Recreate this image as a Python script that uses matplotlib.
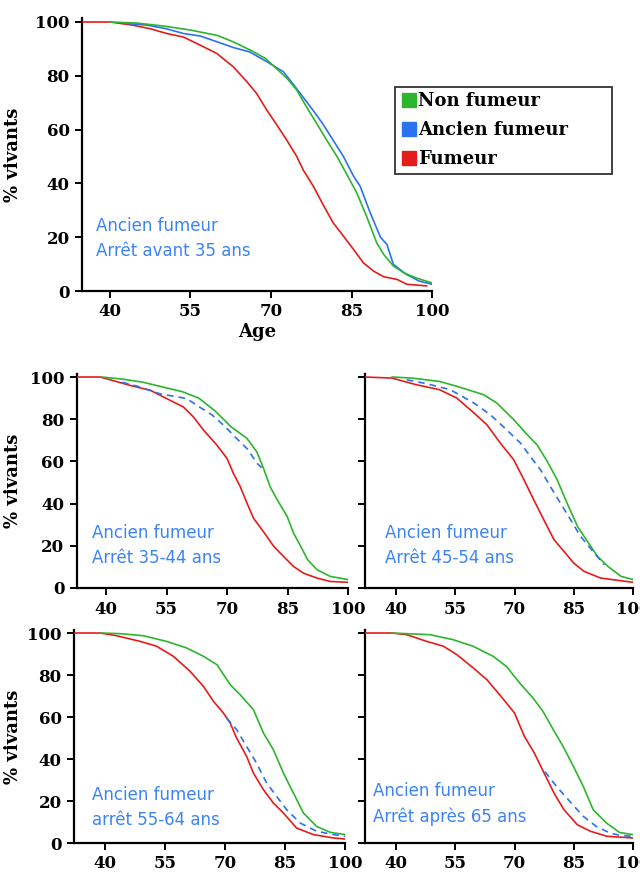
import matplotlib
matplotlib.use("Agg")
import matplotlib.pyplot as plt
from matplotlib.lines import Line2D

# ---- données (âge, % vivants) ----
# Panneau 1 : arrêt avant 35 ans
p1_non_age = [40, 45, 50, 55, 60, 63, 66.7, 69, 71, 73, 74.8, 76.6, 78.5, 80.4, 82.3, 84, 86, 87.8, 89.7, 91, 92.8, 94.7, 97, 100]
p1_non_val = [100, 99.6, 98.5, 97, 95, 92.6, 89, 86.4, 82.7, 79, 74.7, 68.5, 62.3, 56, 50, 43.8, 36.4, 27.8, 17.9, 13.6, 9.3, 6.8, 4.9, 3]
p1_anc_age = [43, 47, 50.5, 53.7, 56.8, 60, 63, 66, 69, 72.3, 74.1, 76, 77.9, 79.7, 81.6, 83.5, 85.4, 86.6, 88.5, 90.4, 91.6, 92.8, 95.2, 97.6, 100]
p1_anc_val = [99.5, 98.8, 97.5, 95.7, 94.8, 92.6, 90.5, 88.9, 85.5, 81.5, 77, 72, 67, 62, 56, 50, 42.6, 39, 29, 20, 17.3, 9.9, 6.2, 3.7, 2.5]
p1_fum_age = [35, 40, 44.3, 47.5, 50.6, 53.7, 56.8, 59.9, 63, 65.5, 67.3, 69.2, 71.1, 72.9, 74.8, 76, 77.9, 79.7, 81.6, 83.5, 85.4, 87.2, 89.1, 91, 93.5, 95.3, 99]
p1_fum_val = [100, 100, 98.8, 97.5, 95.7, 94.4, 91.4, 88.3, 83.3, 77.8, 73.5, 67.3, 61.7, 56.2, 50, 45, 38.9, 32.1, 25.3, 20.4, 15.4, 10.5, 7.4, 5.3, 4.3, 2.5, 1.9]

# Panneau 2 : arrêt 35-44 ans
p2_non_age = [39, 44, 49, 54, 59, 63, 67, 71, 74.9, 77.4, 79, 80.7, 82.4, 84.9, 86.5, 88.2, 90, 92.3, 95.6, 100]
p2_non_val = [100, 99, 97.6, 95.3, 93, 90, 84, 76.4, 71, 64.5, 57, 48, 42, 34, 26, 20, 13.4, 8.7, 5.5, 4]
p2_anc_age = [44, 48, 53.4, 60, 63, 66.3, 69.6, 72, 75, 77.5, 78.6]
p2_anc_val = [97.5, 95.5, 92, 89.8, 86, 82, 76.4, 71.6, 66, 59, 57]
p2_fum_age = [33, 38.5, 41, 46, 51, 55, 59.2, 61.7, 64.2, 67.5, 70, 71.6, 73.3, 75, 76.6, 79, 81.6, 84, 86.5, 89, 92.3, 95.6, 100]
p2_fum_val = [100, 100, 98.7, 96, 93.7, 89.8, 85.8, 81, 74.8, 67.7, 61.4, 54.3, 48, 40, 33, 26.8, 19.7, 15, 10.2, 7, 4.7, 3.1, 2.7]

# Panneau 3 : arrêt 45-54 ans
p3_non_age = [39, 44, 51, 55.4, 62.2, 65.5, 69.8, 73.2, 75.7, 78.3, 80.8, 83.3, 86, 88.5, 91, 93.6, 97, 100]
p3_non_val = [100, 99.5, 97.9, 95.6, 91.6, 87.7, 79.8, 72.7, 67.9, 60, 51.3, 40.3, 29, 22, 15, 10.3, 5.5, 4]
p3_anc_age = [42.7, 47.8, 53.7, 59.7, 63.9, 68, 71.5, 74, 76.6, 79.1, 81.6, 84.2, 86.7, 90.2, 92.7]
p3_anc_val = [98.7, 96.8, 94, 87.7, 82.1, 75, 68.7, 62.4, 56, 48, 40.3, 32.4, 24.5, 16.6, 11]
p3_fum_age = [32, 39, 45, 51, 55.4, 59.7, 63, 66.4, 69.8, 72.4, 74.9, 77.4, 80, 82.5, 85, 87.6, 91.8, 100]
p3_fum_val = [100, 99.5, 96.4, 94, 90, 83, 77.4, 68.7, 60.8, 51.3, 41.7, 32.4, 22.9, 17.4, 11.8, 7.9, 4.7, 2.7]

# Panneau 4 : arrêt 55-64 ans
p4_non_age = [38.8, 43.7, 49.6, 55.4, 60.4, 64.6, 68, 71.3, 73.8, 77.1, 79.6, 82.1, 84.6, 87.1, 89.6, 92.9, 96.3, 100]
p4_non_val = [100, 99.7, 98.7, 96, 92.9, 88.9, 84.9, 75.4, 70.6, 63.5, 52.4, 44.4, 33.3, 23.8, 14.3, 7.9, 5.1, 4]
p4_anc_age = [70.4, 72.9, 75.4, 77.9, 80.4, 82.9, 85.4, 88.8, 92.9, 97.1, 100]
p4_anc_val = [59.5, 54, 46, 38, 28.6, 22.2, 15.9, 9.5, 5.6, 4, 3.2]
p4_fum_age = [32.2, 38.8, 42.9, 48.8, 52.9, 57.1, 61.3, 64.6, 67.1, 69.6, 71.3, 72.9, 75.4, 77.1, 79.6, 82.1, 84.6, 87.9, 92.1, 97.1, 100]
p4_fum_val = [100, 100, 98.7, 96, 93.7, 88.9, 81.7, 74.6, 67.5, 61.9, 57.1, 50, 41.3, 33.3, 25.4, 19, 14.3, 7.1, 4, 2.4, 1.9]

# Panneau 5 : arrêt après 65 ans
p5_non_age = [38.9, 48.6, 54.5, 59.5, 64.6, 68, 71.3, 74.7, 77.2, 79.8, 82.3, 84.9, 87.4, 89.9, 93.3, 96.6, 100]
p5_non_val = [100, 99.2, 96.8, 93.7, 88.9, 84, 76.2, 69, 62.7, 54, 46, 36.5, 27, 15.9, 9.5, 5, 4]
p5_anc_age = [77.7, 80.6, 84, 87.4, 90.7, 94.1, 96.6, 100]
p5_anc_val = [34, 27, 19.8, 12.7, 7.9, 4.8, 3.7, 3.2]
p5_fum_age = [32.2, 38.9, 42.7, 47.8, 52, 55.4, 59.6, 63, 66.6, 70, 72.5, 75, 77.5, 80, 82.5, 85.9, 89.2, 93.4, 100]
p5_fum_val = [100, 100, 99.2, 96, 93.7, 89.7, 83.3, 77.8, 69.8, 61.9, 50.8, 42.9, 33.3, 23.8, 15.9, 8.7, 5.6, 3.2, 2.4]

xticks = [40, 55, 70, 85, 100]
yticks = [0, 20, 40, 60, 80, 100]
legend_labels = ["Non fumeur", "Ancien fumeur", "Fumeur"]

GREEN = "#2db52d"
BLUE = "#2a72f0"
RED = "#e51c1c"
TXT_BLUE = "#3c84f2"
SERIF = ["DejaVu Serif"]

W, H = 640, 874
fig = plt.figure(figsize=(W / 100, H / 100), dpi=100)
fig.patch.set_facecolor("white")


def make_ax(left, right, y100, y0, x40, x100):
    # position en pixels -> fraction de figure
    ppu_y = (y0 - y100) / 100.0
    top = y0 - 101.5 * ppu_y
    ppu_x = (x100 - x40) / 60.0
    xmin = 40 - (x40 - left) / ppu_x
    ax = fig.add_axes([left / W, 1 - y0 / H, (right - left) / W, (y0 - top) / H])
    ax.set_xlim(xmin, 100)
    ax.set_ylim(0, 101.5)
    for s in ["top", "right"]:
        ax.spines[s].set_visible(False)
    for s in ["left", "bottom"]:
        ax.spines[s].set_linewidth(1.6)
    ax.set_xticks(xticks)
    ax.set_yticks(yticks)
    ax.tick_params(direction="out", length=5, width=1.4, pad=4)
    for lab in ax.get_xticklabels() + ax.get_yticklabels():
        lab.set_fontfamily(SERIF)
        lab.set_fontweight("bold")
        lab.set_fontsize(12)
    ax.set_facecolor("white")
    return ax


def draw(ax, non, anc, fum, dashed, note):
    ax.plot(fum[0], fum[1], color=RED, lw=1.2, zorder=3)
    ax.plot(non[0], non[1], color=GREEN, lw=1.2, zorder=4)
    ax.plot(anc[0], anc[1], color=BLUE, lw=1.2,
            ls=(0, (4, 3)) if dashed else "-", zorder=5 if dashed else 3.5)
    ax.text(note[0], note[1], note[2], transform=ax.transAxes, color=TXT_BLUE,
            fontsize=12, family="DejaVu Sans", va="bottom", ha="left",
            linespacing=1.5, zorder=2,
            bbox=dict(facecolor="white", edgecolor="none", pad=3))


def ylab(ax, x_px):
    ax.set_ylabel("% vivants", fontfamily=SERIF, fontweight="bold", fontsize=13)
    pos = ax.get_position()
    ax.yaxis.set_label_coords((x_px - pos.x0 * W) / (pos.width * W), 0.5)


# panneau du haut
ax1 = make_ax(82, 432, 22, 291, 110, 432)
draw(ax1, (p1_non_age, p1_non_val), (p1_anc_age, p1_anc_val), (p1_fum_age, p1_fum_val),
     False, (0.04, 0.115, "Ancien fumeur\nArrêt avant 35 ans"))
ax1.set_xlabel("Age", fontfamily=SERIF, fontweight="bold", fontsize=13, labelpad=2)
ylab(ax1, 22)

# panneaux du milieu
ax2 = make_ax(77, 348, 377, 588, 106, 348)
draw(ax2, (p2_non_age, p2_non_val), (p2_anc_age, p2_anc_val), (p2_fum_age, p2_fum_val),
     True, (0.055, 0.10, "Ancien fumeur\nArrêt 35-44 ans"))
ylab(ax2, 22)

ax3 = make_ax(365, 633, 377, 588, 396, 633)
draw(ax3, (p3_non_age, p3_non_val), (p3_anc_age, p3_anc_val), (p3_fum_age, p3_fum_val),
     True, (0.075, 0.10, "Ancien fumeur\nArrêt 45-54 ans"))
ax3.set_yticklabels([])

# panneaux du bas
ax4 = make_ax(74, 345, 633, 843, 105, 345)
draw(ax4, (p4_non_age, p4_non_val), (p4_anc_age, p4_anc_val), (p4_fum_age, p4_fum_val),
     True, (0.065, 0.065, "Ancien fumeur\narrêt 55-64 ans"))
ylab(ax4, 22)

ax5 = make_ax(365, 633, 633, 843, 396, 633)
draw(ax5, (p5_non_age, p5_non_val), (p5_anc_age, p5_anc_val), (p5_fum_age, p5_fum_val),
     True, (0.03, 0.08, "Ancien fumeur\nArrêt après 65 ans"))
ax5.set_yticklabels([])

# légende
handles = [Line2D([], [], marker="s", ls="none", color=c, markersize=10)
           for c in (GREEN, BLUE, RED)]
leg = fig.legend(handles, legend_labels, loc="upper left", mode="expand",
                 bbox_to_anchor=(395 / W, 1 - 177 / H, 217 / W, 90 / H), frameon=True,
                 fancybox=False, handletextpad=0.1, handlelength=0.9,
                 borderpad=0.3, labelspacing=0.6, borderaxespad=0,
                 prop=dict(family=SERIF, weight="bold", size=13))
leg.get_frame().set_edgecolor("black")
leg.get_frame().set_linewidth(1.3)

fig.savefig("out.png", dpi=100, facecolor="white")
